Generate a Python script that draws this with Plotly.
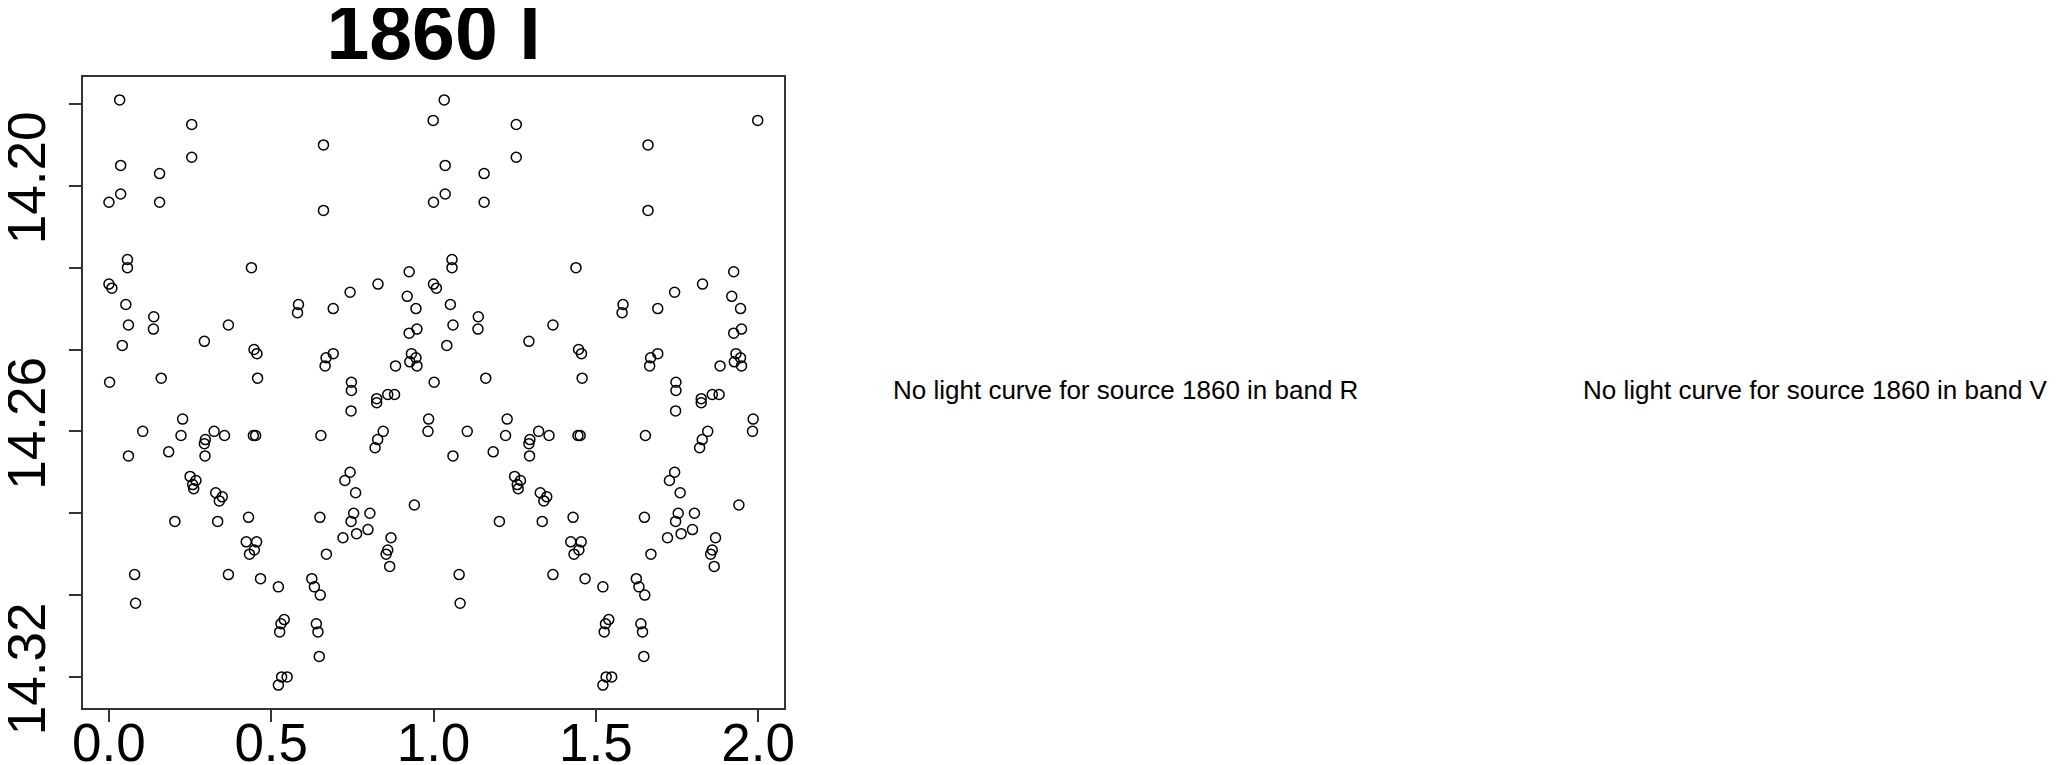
import plotly.graph_objects as go

# Phase (0..1) and I-band magnitude of source 1860
phase = [0.033, 0.255, 0.661, 0.036, 0.255, 0.156, 0.036, 0.000, 0.156, 0.661,
         0.999, 0.057, 0.057, 0.439, 0.000, 0.009, 0.052, 0.060, 0.138, 0.137,
         0.368, 0.584, 0.581, 0.691, 0.743, 0.829, 0.925, 0.919, 0.946, 0.949,
         0.925, 0.041, 0.294, 0.447, 0.456, 0.458, 0.161, 0.002, 0.669, 0.666,
         0.691, 0.883, 0.932, 0.946, 0.927, 0.949, 0.747, 0.747, 0.746, 0.825,
         0.825, 0.859, 0.880, 0.985, 0.983, 0.104, 0.227, 0.222, 0.297, 0.294,
         0.324, 0.356, 0.445, 0.452, 0.653, 0.060, 0.184, 0.296, 0.845, 0.828,
         0.820, 0.250, 0.268, 0.258, 0.261, 0.329, 0.349, 0.340, 0.335, 0.203,
         0.430, 0.423, 0.455, 0.448, 0.433, 0.368, 0.467, 0.079, 0.082, 0.522,
         0.540, 0.530, 0.526, 0.532, 0.549, 0.522, 0.625, 0.633, 0.651, 0.639,
         0.644, 0.648, 0.650, 0.670, 0.743, 0.727, 0.760, 0.754, 0.746, 0.721,
         0.763, 0.804, 0.798, 0.869, 0.859, 0.854, 0.865, 0.941]
mag = [14.179, 14.185, 14.190, 14.195, 14.193, 14.197, 14.202, 14.204, 14.204, 14.206,
       14.184, 14.218, 14.220, 14.220, 14.224, 14.225, 14.229, 14.234, 14.232, 14.235,
       14.234, 14.229, 14.231, 14.230, 14.226, 14.224, 14.221, 14.227, 14.230, 14.235,
       14.236, 14.239, 14.238, 14.240, 14.241, 14.247, 14.247, 14.248, 14.242, 14.244,
       14.241, 14.244, 14.241, 14.242, 14.243, 14.244, 14.248, 14.250, 14.255, 14.252,
       14.253, 14.251, 14.251, 14.257, 14.260, 14.260, 14.257, 14.261, 14.262, 14.263,
       14.260, 14.261, 14.261, 14.261, 14.261, 14.266, 14.265, 14.266, 14.260, 14.262,
       14.264, 14.271, 14.272, 14.273, 14.274, 14.275, 14.276, 14.277, 14.282, 14.282,
       14.281, 14.287, 14.287, 14.289, 14.290, 14.295, 14.296, 14.295, 14.302, 14.298,
       14.306, 14.307, 14.309, 14.320, 14.320, 14.322, 14.296, 14.298, 14.300, 14.307,
       14.309, 14.315, 14.281, 14.290, 14.270, 14.272, 14.275, 14.280, 14.282, 14.286,
       14.285, 14.280, 14.284, 14.286, 14.289, 14.290, 14.293, 14.278]

title_text = "1860 I"
x_tickvals = [0.0, 0.5, 1.0, 1.5, 2.0]
x_ticktext = ["0.0", "0.5", "1.0", "1.5", "2.0"]
y_tickvals = [14.18, 14.20, 14.22, 14.24, 14.26, 14.28, 14.30, 14.32]
y_ticktext = ["", "14.20", "", "", "14.26", "", "", "14.32"]
missing_msgs = ["No light curve for source 1860 in band R",
                "No light curve for source 1860 in band V"]
missing_px = [1117, 1807]  # horizontal centres in figure pixels

# phase-folded, shown over two cycles
xs = phase + [p + 1 for p in phase]
ys = mag + mag

# the page body has an 8px margin, so the figure is 8px smaller than the window
W, H = 2056, 757
L, R, T, B = 75, 1280, 69, 57
pw = W - L - R
ph = H - T - B

fig = go.Figure()
fig.add_trace(go.Scatter(
    x=xs, y=ys, mode="markers",
    marker=dict(symbol="circle-open", size=10, color="black",
                line=dict(width=1.5, color="black")),
    hoverinfo="skip", showlegend=False))

font_family = "Liberation Sans, Arial, Helvetica, sans-serif"
fig.update_layout(
    width=W, height=H,
    margin=dict(l=L, r=R, t=T, b=B, pad=0, autoexpand=False),
    paper_bgcolor="white", plot_bgcolor="white",
    title=dict(text=title_text, x=0.5, xref="paper", xanchor="center",
               y=1 - 24 / H, yref="container", yanchor="middle",
               font=dict(family=font_family, size=77, color="black", weight="bold")),
    xaxis=dict(range=[-0.08, 2.08], tickvals=x_tickvals, ticktext=x_ticktext,
               automargin=False,
               showgrid=False, zeroline=False, showline=True, mirror=True,
               linecolor="#333333", linewidth=1.6,
               ticks="outside", ticklen=12, tickwidth=1.6, tickcolor="#333333",
               ticklabelstandoff=-24,
               tickfont=dict(family=font_family, size=53, color="black")),
    yaxis=dict(range=[14.3276, 14.1734], tickvals=y_tickvals, ticktext=y_ticktext,
               automargin=False,
               showgrid=False, zeroline=False, showline=True, mirror=True,
               linecolor="#333333", linewidth=1.6,
               ticks="outside", ticklen=12, tickwidth=1.6, tickcolor="#333333",
               tickangle=-90, ticklabelstandoff=3,
               tickfont=dict(family=font_family, size=53, color="black")),
)

for msg, px in zip(missing_msgs, missing_px):
    fig.add_annotation(text=msg, x=(px - L) / pw, y=1 - (382 - T) / ph,
                       xref="paper", yref="paper", showarrow=False,
                       xanchor="center", yanchor="middle",
                       font=dict(family=font_family, size=26, color="black"))

fig.write_html("out.html")
